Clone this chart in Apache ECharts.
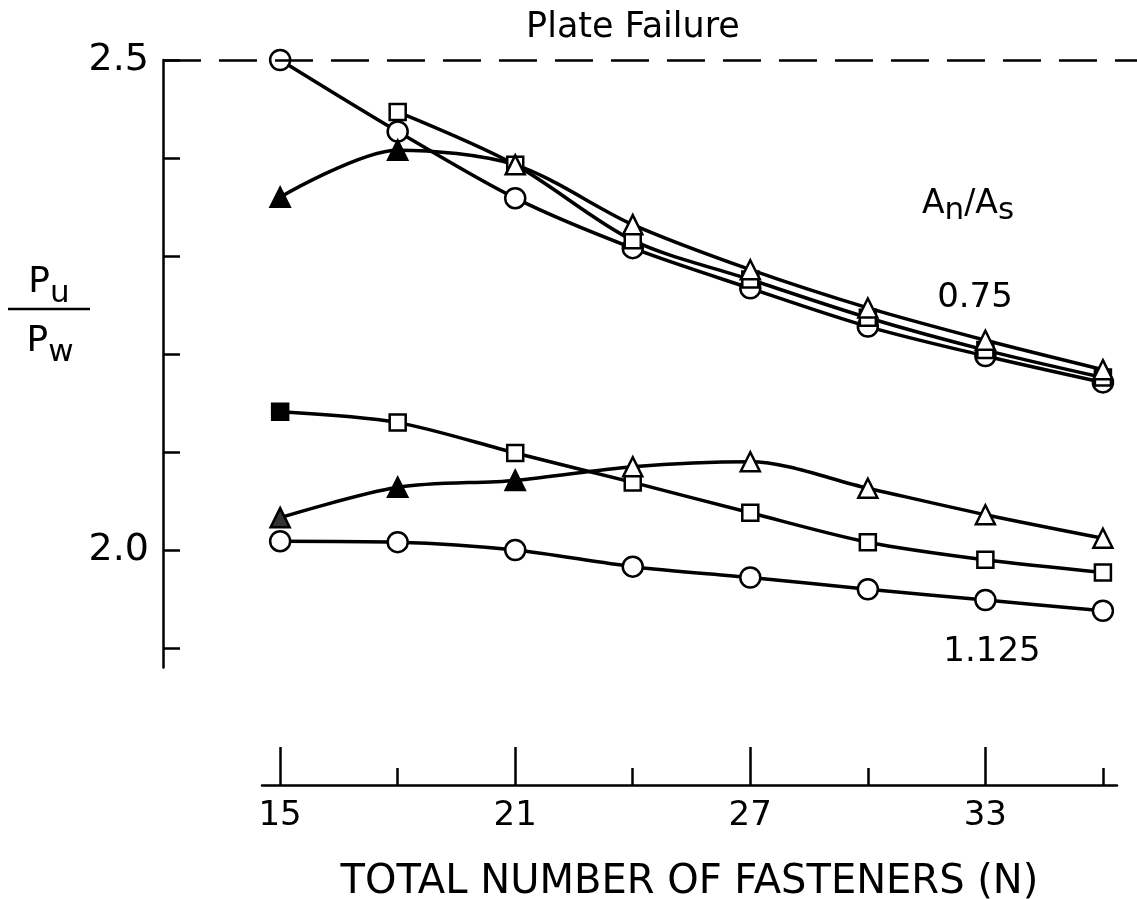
<!DOCTYPE html>
<html>
<head>
<meta charset="utf-8">
<title>Pu/Pw vs fasteners</title>
<script src="https://cdn.jsdelivr.net/npm/echarts@6/dist/echarts.min.js"></script>
<style>
  html, body { margin: 0; padding: 0; background: #fff; }
  #chart { width: 1137px; height: 899px; }
</style>
</head>
<body>
<div id="chart"></div>
<script>
// total number of fasteners (N)
const fasteners = [15, 18, 21, 24, 27, 30, 33, 36];

// An/As = 0.75 group
const circle075 = [2.500, 2.427, 2.359, 2.308, 2.267, 2.228, 2.198, 2.171];
const square075 = [null, 2.447, 2.393, 2.316, 2.276, 2.237, 2.204, 2.176];
const triangle075 = [2.360, 2.408, 2.393, 2.332, 2.286, 2.247, 2.214, 2.184];

// An/As = 1.125 group
const circle1125 = [2.009, 2.008, 2.000, 1.983, 1.972, 1.960, 1.949, 1.938];
const square1125 = [2.141, 2.130, 2.099, 2.069, 2.038, 2.008, 1.990, 1.977];
const triangle1125 = [2.033, 2.064, 2.071, 2.085, 2.090, 2.063, 2.036, 2.012];

// solid (filled) markers, '' = open
const triangle075Fill = ['#000', '#000', '', '', '', '', '', ''];
const square1125Fill = ['#000', '', '', '', '', '', '', ''];
const triangle1125Fill = ['#333', '#000', '#000', '', '', '', '', ''];

const yTicks = [1.9, 2.0, 2.1, 2.2, 2.3, 2.4, 2.5];
const yLabels = [2.0, 2.5];
const xMajor = [15, 21, 27, 33];
const xMinor = [18, 24, 30, 36];
const plateFailure = 2.5;

const FONT = 'DejaVu Sans';

function makeSeries(name, ys, symbol, size, fills) {
  const data = [];
  fasteners.forEach((x, i) => {
    if (ys[i] == null) return;
    const item = { value: [x, ys[i]] };
    if (fills && fills[i]) item.itemStyle = { color: fills[i] };
    data.push(item);
  });
  return {
    name: name,
    type: 'line',
    xAxisIndex: 0,
    yAxisIndex: 0,
    smooth: 0.3,
    symbol: symbol,
    symbolSize: size,
    showAllSymbol: true,
    lineStyle: { color: '#000', width: 3.5 },
    itemStyle: { color: '#fff', borderColor: '#000', borderWidth: 2.5 },
    emphasis: { disabled: true },
    data: data
  };
}

const series = [
  makeSeries('circle 0.75', circle075, 'circle', 20),
  makeSeries('square 0.75', square075, 'rect', 16),
  makeSeries('triangle 0.75', triangle075, 'triangle', 19, triangle075Fill),
  makeSeries('circle 1.125', circle1125, 'circle', 20),
  makeSeries('square 1.125', square1125, 'rect', 16, square1125Fill),
  makeSeries('triangle 1.125', triangle1125, 'triangle', 19, triangle1125Fill)
];

series[0].markLine = {
  silent: true,
  symbol: ['none', 'none'],
  label: { show: false },
  lineStyle: { color: '#000', width: 2.5, type: [38, 18] },
  data: [{ yAxis: plateFailure }]
};

const chart = echarts.init(document.getElementById('chart'));

chart.setOption({
  animation: false,
  backgroundColor: '#fff',
  textStyle: { fontFamily: FONT, color: '#000' },
  grid: [
    { left: 163, top: 60, right: 0, height: 607.6, outerBoundsMode: 'none' },
    { left: 262, right: 20, top: 700, height: 85, outerBoundsMode: 'none' }
  ],
  xAxis: [
    { gridIndex: 0, type: 'value', min: 12.01, max: 36.87, show: false },
    {
      gridIndex: 1, type: 'value', position: 'bottom', min: 14.54, max: 36.36,
      splitLine: { show: false },
      axisLine: { show: true, lineStyle: { color: '#000', width: 2.5 } },
      axisTick: { show: true, inside: true, length: 38, customValues: xMajor, lineStyle: { color: '#000', width: 2.5 } },
      axisLabel: { customValues: xMajor, color: '#000', fontSize: 34, fontFamily: FONT, margin: 14 },
      name: 'TOTAL NUMBER OF FASTENERS (N)',
      nameLocation: 'middle',
      nameGap: 78,
      nameTextStyle: { color: '#000', fontSize: 40, fontFamily: FONT }
    },
    {
      gridIndex: 1, type: 'value', position: 'bottom', min: 14.54, max: 36.36,
      splitLine: { show: false },
      axisLine: { show: false },
      axisTick: { show: true, inside: true, length: 17, customValues: xMinor, lineStyle: { color: '#000', width: 2.5 } },
      axisLabel: { show: false }
    }
  ],
  yAxis: [
    {
      gridIndex: 0, type: 'value', min: 1.88, max: 2.5,
      splitLine: { show: false },
      axisLine: { show: true, lineStyle: { color: '#000', width: 2.5 } },
      axisTick: { show: true, inside: true, length: 17, customValues: yTicks, lineStyle: { color: '#000', width: 2.5 } },
      axisLabel: {
        customValues: yLabels, color: '#000', fontSize: 38, fontFamily: FONT, margin: 14,
        formatter: v => v.toFixed(1)
      }
    },
    { gridIndex: 1, type: 'value', min: 0, max: 1, show: false }
  ],
  graphic: [
    {
      type: 'text', x: 633, y: 28,
      style: { text: 'Plate Failure', fontSize: 35, fontFamily: FONT, fill: '#000', align: 'center', verticalAlign: 'middle' }
    },
    {
      type: 'text', x: 968, y: 204,
      style: {
        text: 'A{sub|n}/A{sub|s}', fontSize: 33, fontFamily: FONT, fill: '#000',
        align: 'center', verticalAlign: 'middle', lineHeight: 44,
        rich: { sub: { fontSize: 31, fontFamily: FONT, fill: '#000', lineHeight: 31, verticalAlign: 'bottom' } }
      }
    },
    {
      type: 'text', x: 975, y: 298,
      style: { text: '0.75', fontSize: 34, fontFamily: FONT, fill: '#000', align: 'center', verticalAlign: 'middle' }
    },
    {
      type: 'text', x: 992, y: 652,
      style: { text: '1.125', fontSize: 34, fontFamily: FONT, fill: '#000', align: 'center', verticalAlign: 'middle' }
    },
    {
      type: 'text', x: 49, y: 283,
      style: {
        text: 'P{sub|u}', fontSize: 36, fontFamily: FONT, fill: '#000',
        align: 'center', verticalAlign: 'middle', lineHeight: 52,
        rich: { sub: { fontSize: 31, fontFamily: FONT, fill: '#000', lineHeight: 31, verticalAlign: 'bottom' } }
      }
    },
    {
      type: 'line',
      shape: { x1: 8, y1: 309, x2: 90, y2: 309 },
      style: { stroke: '#000', lineWidth: 2.5 }
    },
    {
      type: 'text', x: 50, y: 342,
      style: {
        text: 'P{sub|w}', fontSize: 36, fontFamily: FONT, fill: '#000',
        align: 'center', verticalAlign: 'middle', lineHeight: 52,
        rich: { sub: { fontSize: 31, fontFamily: FONT, fill: '#000', lineHeight: 31, verticalAlign: 'bottom' } }
      }
    }
  ],
  series: series
});
</script>
</body>
</html>
